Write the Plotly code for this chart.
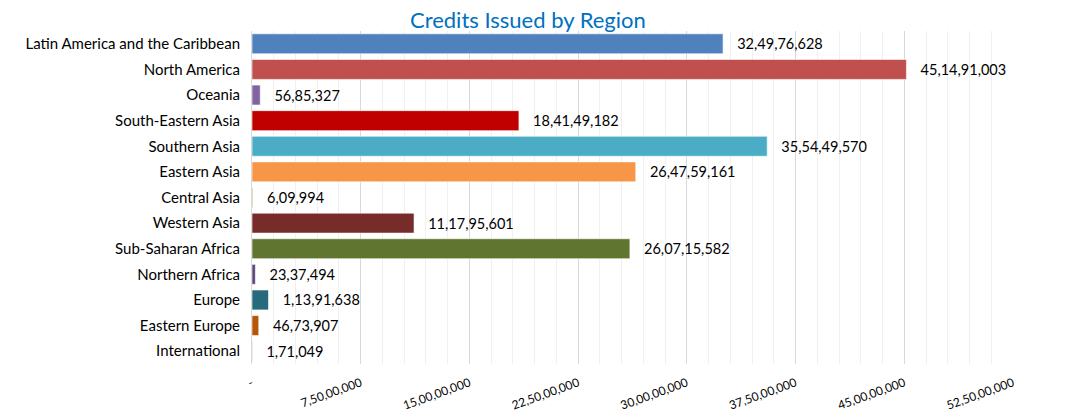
import numpy as np
import plotly.graph_objects as go

regions = [
    "Latin America and the Caribbean", "North America", "Oceania",
    "South-Eastern Asia", "Southern Asia", "Eastern Asia", "Central Asia",
    "Western Asia", "Sub-Saharan Africa", "Northern Africa", "Europe",
    "Eastern Europe", "International",
]
credits = [
    324976628, 451491003, 5685327, 184149182, 355449570, 264759161, 609994,
    111795601, 260715582, 2337494, 11391638, 4673907, 171049,
]
colors = [
    "#4F81BD", "#C0504D", "#8064A2", "#C00000", "#4BACC6", "#F79646", "#9BBB59",
    "#772C2A", "#5F7530", "#5C4776", "#276A7C", "#B65708", "#2C4D75",
]
x_max = 525000000
x_step = 75000000
minor_step = 15000000


def indian(n):
    s = str(int(n))
    if len(s) <= 3:
        return s
    last3, rest = s[-3:], s[:-3]
    groups = []
    while len(rest) > 2:
        groups.insert(0, rest[-2:])
        rest = rest[:-2]
    if rest:
        groups.insert(0, rest)
    return ",".join(groups + [last3])


tickvals = list(np.arange(0, x_max + 1, x_step))
ticktext = ["-" if v == 0 else indian(v) for v in tickvals]

FONT = "Lato"

fig = go.Figure(
    go.Bar(
        y=regions,
        x=credits,
        orientation="h",
        marker=dict(color=colors, line=dict(color="rgba(255,255,255,0.6)", width=1)),
        text=["   " + indian(v) for v in credits],
        textposition="outside",
        constraintext="none",
        cliponaxis=False,
        outsidetextfont=dict(family=FONT, size=14.5, color="#000000"),
        hoverinfo="skip",
    )
)

fig.update_layout(
    width=1080,
    height=417,
    margin=dict(l=244, r=75, t=23, b=58),
    paper_bgcolor="white",
    plot_bgcolor="white",
    bargap=0.22,
    showlegend=False,
    font=dict(family=FONT, color="#000000"),
)

fig.add_annotation(
    text="Credits Issued by Region",
    xref="paper", yref="paper",
    x=0.3627, y=1,
    xanchor="center", yanchor="middle",
    yshift=12,
    showarrow=False,
    font=dict(family=FONT, size=22, color="#0070C0"),
)

fig.update_xaxes(
    range=[0, x_max],
    tickmode="array",
    tickvals=tickvals,
    ticktext=ticktext,
    tickangle=-20,
    tickfont=dict(family=FONT, size=12, color="#000000"),
    ticklabelstandoff=9,
    showgrid=True,
    gridcolor="#D9D9D9",
    gridwidth=1,
    zeroline=False,
    showline=False,
    minor=dict(dtick=minor_step, tick0=0, showgrid=True, gridcolor="#F0F0F0", gridwidth=1),
    fixedrange=True,
)

fig.update_yaxes(
    autorange="reversed",
    tickfont=dict(family=FONT, size=15, color="#000000"),
    showline=True,
    linecolor="#D9D9D9",
    linewidth=1,
    ticks="",
    ticklabelstandoff=8,
    fixedrange=True,
)

fig.write_html("out.html")
